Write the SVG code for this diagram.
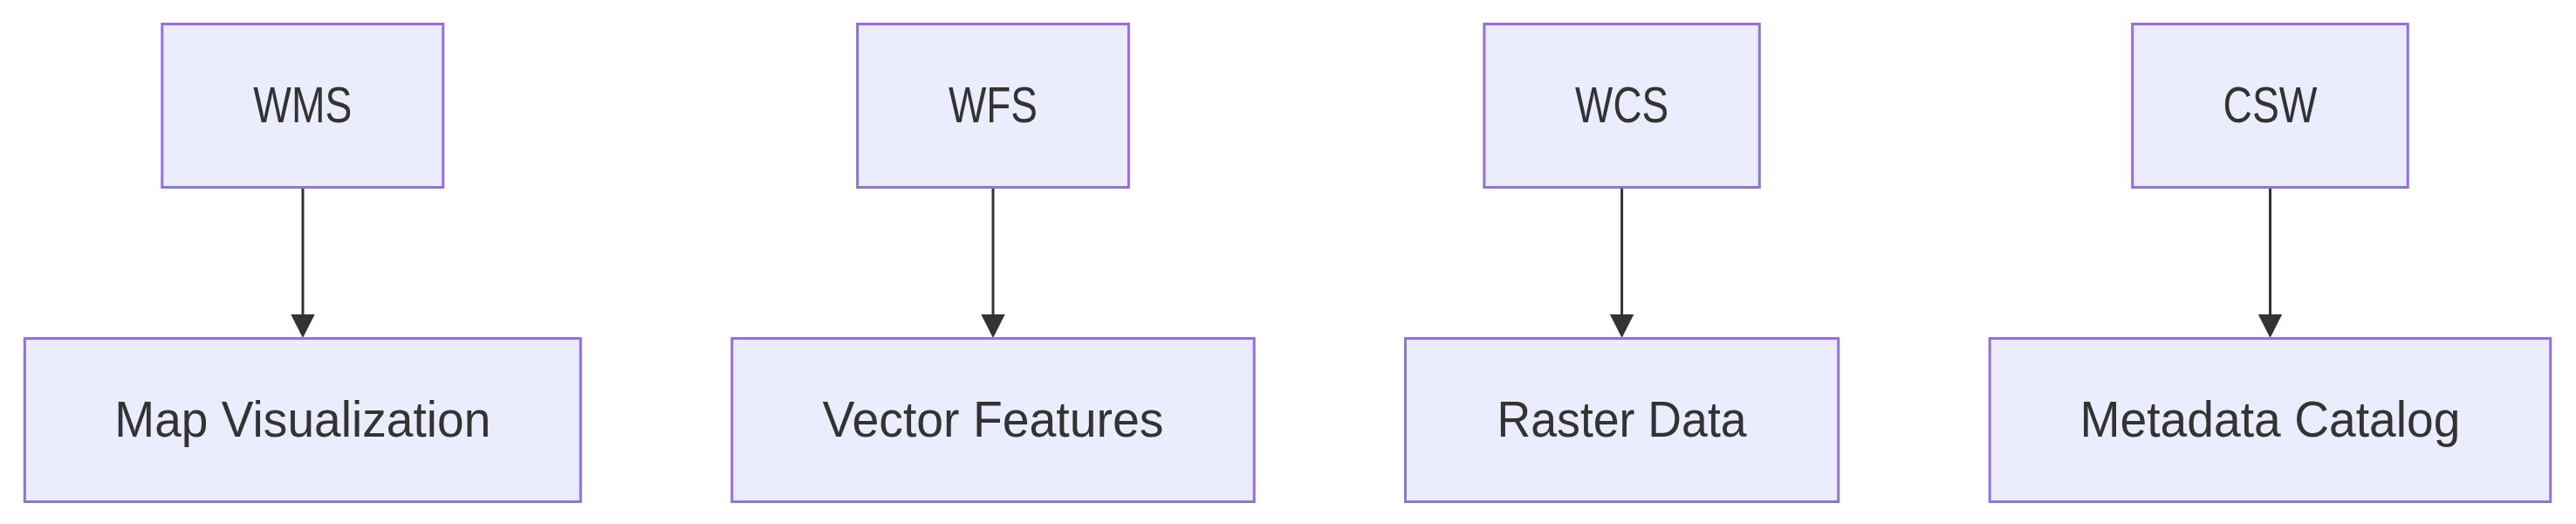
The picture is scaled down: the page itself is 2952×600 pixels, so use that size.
<svg xmlns="http://www.w3.org/2000/svg" width="2952" height="600" viewBox="0 0 2952 600">
<style>
.node rect{fill:#ECECFF;stroke:#9370DB;stroke-width:3}
.node text{font-family:"Liberation Sans",Arial,sans-serif;font-size:56.5px;fill:#333333;text-anchor:middle}
.edge{stroke:#333333;stroke-width:3;fill:none}
</style>
<defs>
<marker id="arrow" markerUnits="userSpaceOnUse" viewBox="0 0 28 27" refX="14" refY="26.5" markerWidth="28" markerHeight="27" orient="auto-start-reverse">
<path d="M0,0 L28,0 L14,27 Z" fill="#333333" transform="rotate(0)"/>
</marker>
</defs>
<rect width="2952" height="600" fill="#FFFFFF"/>
<g id="edges">
<line class="edge" x1="347" y1="214.5" x2="347" y2="362"/>
<path d="M333.3,360 L360.7,360 L347,387 Z" fill="#333333"/>
<line class="edge" x1="1138" y1="214.5" x2="1138" y2="362"/>
<path d="M1124.3,360 L1151.7,360 L1138,387 Z" fill="#333333"/>
<line class="edge" x1="1858.6" y1="214.5" x2="1858.6" y2="362"/>
<path d="M1844.9,360 L1872.3,360 L1858.6,387 Z" fill="#333333"/>
<line class="edge" x1="2601.5" y1="214.5" x2="2601.5" y2="362"/>
<path d="M2587.8,360 L2615.2,360 L2601.5,387 Z" fill="#333333"/>
</g>
<g id="WMS" class="node">
<rect x="185.8" y="27.5" width="322" height="187"/>
<text x="346.8" y="140" textLength="113" lengthAdjust="spacingAndGlyphs">WMS</text>
</g>
<g id="MapVisualization" class="node">
<rect x="28.3" y="387.5" width="637" height="187"/>
<text x="346.8" y="500" textLength="431" lengthAdjust="spacingAndGlyphs">Map Visualization</text>
</g>
<g id="WFS" class="node">
<rect x="982.6" y="27.5" width="310.8" height="187"/>
<text x="1138" y="140" textLength="102" lengthAdjust="spacingAndGlyphs">WFS</text>
</g>
<g id="VectorFeatures" class="node">
<rect x="838.8" y="387.5" width="598.4" height="187"/>
<text x="1138" y="500" textLength="391" lengthAdjust="spacingAndGlyphs">Vector Features</text>
</g>
<g id="WCS" class="node">
<rect x="1700.9" y="27.5" width="315.4" height="187"/>
<text x="1858.6" y="140" textLength="107" lengthAdjust="spacingAndGlyphs">WCS</text>
</g>
<g id="RasterData" class="node">
<rect x="1610.5" y="387.5" width="496.2" height="187"/>
<text x="1858.6" y="500" textLength="286" lengthAdjust="spacingAndGlyphs">Raster Data</text>
</g>
<g id="CSW" class="node">
<rect x="2443.7" y="27.5" width="315.6" height="187"/>
<text x="2601.5" y="140" textLength="108" lengthAdjust="spacingAndGlyphs">CSW</text>
</g>
<g id="MetadataCatalog" class="node">
<rect x="2280.2" y="387.5" width="642.6" height="187"/>
<text x="2601.5" y="500" textLength="436" lengthAdjust="spacingAndGlyphs">Metadata Catalog</text>
</g>
</svg>
